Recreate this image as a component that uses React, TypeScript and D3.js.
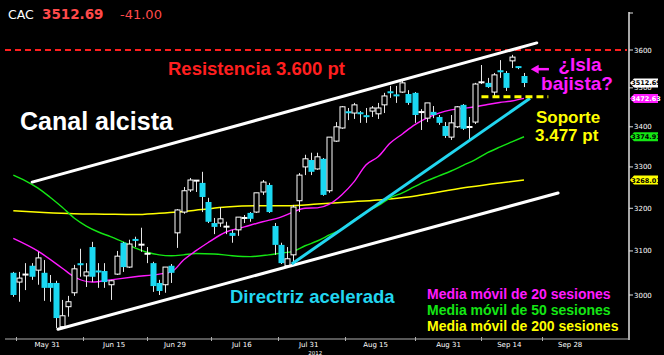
import React from "react";
import * as d3 from "d3";

const WIDTH = 664;
const HEIGHT = 355;

// CAC 40 daily sessions, 24 May – 18 Sep 2012
const opens = [
  3050, 3029, 3045, 3066, 3056, 3050, 3027, 3027, 2930, 2974,
  3005, 3070, 3043, 3109, 3054, 3054, 3023, 3047, 3119, 3063,
  3127, 3114, 3093, 3072, 3027, 3023, 3066, 3142, 3191, 3244,
  3266, 3261, 3215, 3165, 3165, 3156, 3142, 3149, 3175, 3189,
  3191, 3239, 3256, 3158, 3114, 3066, 3091, 3218, 3300, 3317,
  3295, 3320, 3242, 3364, 3397, 3438, 3435, 3435, 3428, 3440,
  3433, 3456, 3489, 3481, 3489, 3484, 3487, 3437, 3422, 3438,
  3425, 3402, 3374, 3400, 3456, 3397, 3412, 3514, 3513, 3489,
  3544, 3539, 3571, 3557, 3531,
];
const highs = [
  3052, 3052, 3072, 3072, 3098, 3079, 3045, 3032, 2989, 2998,
  3068, 3105, 3072, 3121, 3072, 3072, 3034, 3100, 3121, 3126,
  3133, 3154, 3109, 3075, 3034, 3063, 3070, 3198, 3251, 3273,
  3268, 3288, 3225, 3177, 3203, 3168, 3149, 3179, 3184, 3191,
  3237, 3268, 3261, 3165, 3119, 3109, 3208, 3285, 3330, 3335,
  3335, 3322, 3374, 3412, 3453, 3448, 3461, 3440, 3448, 3453,
  3461, 3487, 3505, 3505, 3518, 3494, 3489, 3445, 3461, 3453,
  3430, 3412, 3430, 3453, 3458, 3425, 3513, 3560, 3526, 3539,
  3573, 3544, 3587, 3557, 3539,
];
const lows = [
  2996, 2985, 3011, 3034, 3023, 2987, 2985, 2927, 2925, 2952,
  2998, 3041, 3018, 3029, 3016, 3016, 2989, 3045, 3052, 3061,
  3109, 3098, 3072, 3007, 3000, 3005, 3027, 3107, 3187, 3239,
  3239, 3191, 3165, 3139, 3156, 3139, 3119, 3135, 3165, 3168,
  3189, 3232, 3189, 3091, 3070, 3063, 3072, 3191, 3280, 3280,
  3293, 3230, 3237, 3362, 3395, 3417, 3420, 3410, 3410, 3425,
  3420, 3435, 3474, 3461, 3487, 3456, 3410, 3392, 3412, 3422,
  3405, 3372, 3367, 3397, 3392, 3369, 3407, 3510, 3500, 3476,
  3526, 3492, 3552, 3549, 3502,
];
const closes = [
  3000, 3038, 3047, 3041, 3084, 3016, 3016, 2949, 2954, 2985,
  3059, 3069, 3052, 3041, 3052, 3029, 3032, 3088, 3063, 3116,
  3124, 3115, 3094, 3020, 3009, 3063, 3050, 3196, 3242, 3268,
  3267, 3227, 3168, 3156, 3175, 3157, 3135, 3179, 3179, 3175,
  3237, 3263, 3191, 3114, 3072, 3082, 3203, 3280, 3320, 3288,
  3325, 3232, 3374, 3400, 3451, 3436, 3456, 3434, 3426, 3448,
  3448, 3479, 3488, 3480, 3513, 3461, 3430, 3438, 3461, 3430,
  3410, 3377, 3410, 3451, 3395, 3402, 3510, 3515, 3502, 3534,
  3543, 3500, 3581, 3552, 3512.69,
];
const dailyChange = -41.0;

// Moving averages: [session index, value]
const ma20 = [
  [0, 3129], [4, 3100], [8, 3061], [10, 3041], [13, 3029], [16, 3034], [20, 3041],
  [24, 3047], [26, 3052], [28, 3079], [30, 3100], [32, 3119], [35, 3144], [38, 3156],
  [41, 3168], [44, 3179], [46, 3191], [48, 3200], [50, 3201], [52, 3210], [54, 3232],
  [56, 3263], [58, 3305], [60, 3325], [62, 3359], [64, 3382], [66, 3405], [68, 3422],
  [70, 3435], [72, 3443], [74, 3447], [76, 3451], [78, 3457], [80, 3462], [82, 3466],
  [84, 3472.63],
];
const ma50 = [
  [0, 3280], [2, 3266], [4, 3249], [6, 3227], [8, 3203], [10, 3177], [12, 3158],
  [14, 3144], [16, 3133], [18, 3121], [20, 3107], [22, 3097], [24, 3091], [26, 3089],
  [28, 3091], [30, 3094], [33, 3093], [36, 3089], [39, 3087], [42, 3091], [44, 3095],
  [46, 3099], [48, 3112], [50, 3123], [52, 3137], [54, 3151], [56, 3172], [58, 3191],
  [60, 3206], [62, 3225], [64, 3237], [66, 3252], [68, 3266], [70, 3278], [72, 3290],
  [74, 3304], [76, 3318], [78, 3335], [80, 3349], [82, 3362], [84, 3374.91],
];
const ma200 = [
  [0, 3194], [5, 3190], [10, 3187], [15, 3186], [20, 3185], [24, 3188], [27, 3191],
  [31, 3197], [35, 3203], [40, 3206], [45, 3206], [50, 3210], [55, 3215], [60, 3220],
  [65, 3227], [70, 3239], [75, 3251], [80, 3261], [84, 3268.01],
];

// Axis ticks
const priceTicks = [3000, 3100, 3200, 3300, 3400, 3500, 3600];
const dateTickIdx = [6, 17, 27, 38, 49, 60, 72, 82, 92];
const dateTickLabels = ["May 31", "Jun 15", "Jun 29", "Jul 16", "Jul 31", "Aug 15", "Aug 31", "Sep 14", "Sep 28"];
const yearLabel = "2012";
const yearTickIdx = 49;

// Drawn analysis: lines given as [session index, price]
const resistanceLevel = 3600;
const supportLevel = 3477;
const channelUpper = [[3.1, 3263], [86.1, 3619]];
const channelLower = [[7.35, 2924.5], [89.6, 3236.6]];
const trendLine = [[45.8, 3070], [85, 3473]];
const supportSpan = [77, 88];
const islandArrow = [[88.1, 3549], [85.1, 3549]];

const C_UP = "#ffffff";
const C_DOWN = "#1ad8f2";
const C_MA20 = "#ff1aff";
const C_MA50 = "#14e614";
const C_MA200 = "#ffff00";
const C_RED = "#ff1f1f";
const C_CYAN = "#22d6f0";
const BOLD = "'Liberation Sans', Arial, sans-serif";
const SMALL = "'DejaVu Sans', sans-serif";

export default function App() {
  const axisX = 629;
  const axisY = 339;
  const plotLeft = 5;

  const x = d3.scaleLinear().domain([0, 84]).range([13.3, 524]);
  const y = d3.scaleLog().domain([3000, 3600]).range([295, 50]);

  const line = d3
    .line<number[]>()
    .x((d) => x(d[0]))
    .y((d) => y(d[1]));
  const smooth = d3
    .line<number[]>()
    .x((d) => x(d[0]))
    .y((d) => y(d[1]))
    .curve(d3.curveMonotoneX);

  const candles = opens.map((o, i) => {
    const c = closes[i];
    const cx = Math.round(x(i)) + 0.5;
    const up = c >= o;
    const yTop = y(Math.max(o, c));
    const yBot = y(Math.min(o, c));
    const bodyH = yBot - yTop;
    return (
      <g key={i}>
        <line x1={cx} x2={cx} y1={y(highs[i])} y2={y(lows[i])} stroke="#e6e6e6" strokeWidth={1} />
        {bodyH < 2 ? (
          <line x1={cx - 3} x2={cx + 3} y1={(yTop + yBot) / 2} y2={(yTop + yBot) / 2} stroke={up ? C_UP : C_DOWN} strokeWidth={2} />
        ) : up ? (
          <rect x={cx - 2.5} y={yTop} width={5} height={bodyH} fill="#000" stroke={C_UP} strokeWidth={1} />
        ) : (
          <rect x={cx - 3} y={yTop} width={6} height={bodyH} fill={C_DOWN} />
        )}
      </g>
    );
  });

  const lastClose = closes[closes.length - 1];
  const tags = [
    { v: lastClose, fill: "#ffffff", text: "#000" },
    { v: ma20[ma20.length - 1][1], fill: C_MA20, text: "#fff" },
    { v: ma50[ma50.length - 1][1], fill: C_MA50, text: "#000" },
    { v: ma200[ma200.length - 1][1], fill: C_MA200, text: "#000" },
  ];

  const minorTicks = dateTickIdx.map((d, i) => (i === 0 ? d - 5.5 : (d + dateTickIdx[i - 1]) / 2));

  const arrowX1 = x(islandArrow[0][0]);
  const arrowX2 = x(islandArrow[1][0]);
  const arrowY = y(islandArrow[0][1]);

  return (
    <div style={{ position: "fixed", left: 0, top: 0, width: WIDTH, height: HEIGHT, background: "#000" }}>
      <svg width={WIDTH} height={HEIGHT} style={{ display: "block", background: "#000" }}>
        {/* moving averages */}
        <path d={smooth(ma200) || ""} fill="none" stroke={C_MA200} strokeWidth={1.5} />
        <path d={smooth(ma50) || ""} fill="none" stroke={C_MA50} strokeWidth={1.4} />
        <path d={smooth(ma20) || ""} fill="none" stroke={C_MA20} strokeWidth={1.4} />

        {/* resistance */}
        <line x1={plotLeft} x2={axisX - 2} y1={y(resistanceLevel)} y2={y(resistanceLevel)} stroke={C_RED} strokeWidth={2} strokeDasharray="6 4" />

        {candles}

        {/* channel and trend line */}
        <path d={line(channelUpper) || ""} stroke="#fff" strokeWidth={3} fill="none" strokeLinecap="round" />
        <path d={line(channelLower) || ""} stroke="#fff" strokeWidth={3} fill="none" strokeLinecap="round" />
        <path d={line(trendLine) || ""} stroke={C_CYAN} strokeWidth={3} fill="none" />
        <line x1={x(supportSpan[0])} x2={x(supportSpan[1])} y1={y(supportLevel)} y2={y(supportLevel)} stroke="#ffff00" strokeWidth={3} strokeDasharray="7 4" />

        {/* island arrow */}
        <line x1={arrowX1} x2={arrowX2 + 6} y1={arrowY} y2={arrowY} stroke={C_MA20} strokeWidth={2.5} />
        <path d={`M${arrowX2},${arrowY} L${arrowX2 + 8},${arrowY - 4.5} L${arrowX2 + 8},${arrowY + 4.5} Z`} fill={C_MA20} />

        {/* annotations */}
        <text x={168} y={75} fill={C_RED} fontFamily={BOLD} fontWeight="bold" fontSize={18.5}>Resistencia 3.600 pt</text>
        <text x={20} y={130} fill="#fff" fontFamily={BOLD} fontWeight="bold" fontSize={25}>Canal alcista</text>
        <text x={536} y={123} fill="#ffff00" fontFamily={BOLD} fontWeight="bold" fontSize={17}>Soporte</text>
        <text x={535} y={141} fill="#ffff00" fontFamily={BOLD} fontWeight="bold" fontSize={17}>3.477 pt</text>
        <text x={580} y={71} fill={C_MA20} fontFamily={BOLD} fontWeight="bold" fontSize={19} textAnchor="middle">¿Isla</text>
        <text x={577} y={89.5} fill={C_MA20} fontFamily={BOLD} fontWeight="bold" fontSize={19} textAnchor="middle">bajista?</text>
        <text x={230} y={303} fill={C_CYAN} fontFamily={BOLD} fontWeight="bold" fontSize={18.5}>Directriz acelerada</text>

        {/* legend */}
        <text x={427} y={299} fill={C_MA20} fontFamily={BOLD} fontWeight="bold" fontSize={14}>Media móvil de 20 sesiones</text>
        <text x={427} y={315} fill={C_MA50} fontFamily={BOLD} fontWeight="bold" fontSize={14}>Media móvil de 50 sesiones</text>
        <text x={427} y={331} fill={C_MA200} fontFamily={BOLD} fontWeight="bold" fontSize={14}>Media móvil de 200 sesiones</text>

        {/* header */}
        <text x={8} y={19} fill="#fff" fontFamily={SMALL} fontSize={12.5}>CAC</text>
        <text x={42} y={19} fill="#ff4a4a" fontFamily={SMALL} fontWeight="bold" fontSize={13.5}>{lastClose.toFixed(2)}</text>
        <text x={120} y={19} fill="#ff4a4a" fontFamily={SMALL} fontSize={13}>{dailyChange.toFixed(2)}</text>

        {/* price axis */}
        <line x1={axisX} x2={axisX} y1={12} y2={axisY + 1} stroke="#e0e0e0" strokeWidth={1.5} />
        <line x1={axisX} x2={axisX + 4} y1={13} y2={13} stroke="#e0e0e0" strokeWidth={1} />
        {priceTicks.map((t) => (
          <g key={t}>
            <line x1={axisX} x2={axisX + 4} y1={y(t)} y2={y(t)} stroke="#e0e0e0" strokeWidth={1} />
            <text x={axisX + 5} y={y(t) + 2.5} fill="#fff" fontFamily={SMALL} fontSize={7}>{t}</text>
          </g>
        ))}
        {tags.map((t, i) => {
          const ty = y(t.v);
          return (
            <g key={i}>
              <path d={`M${axisX + 1},${ty} L${axisX + 5},${ty - 4.5} L${axisX + 29},${ty - 4.5} L${axisX + 29},${ty + 4.5} L${axisX + 5},${ty + 4.5} Z`} fill={t.fill} />
              <text x={axisX + 17} y={ty + 2.5} fill={t.text} fontFamily={SMALL} fontWeight="bold" fontSize={6.5} textAnchor="middle">{t.v.toFixed(2)}</text>
            </g>
          );
        })}

        {/* date axis */}
        <line x1={plotLeft} x2={axisX} y1={axisY} y2={axisY} stroke="#b0b0b0" strokeWidth={1} />
        {minorTicks.map((m, i) => (
          <line key={i} x1={Math.round(x(m)) + 0.5} x2={Math.round(x(m)) + 0.5} y1={axisY - 2} y2={axisY + 2} stroke="#b0b0b0" strokeWidth={1} />
        ))}
        {dateTickIdx.map((d, i) => (
          <text key={d} x={x(d) - 2.5} y={347} fill="#fff" fontFamily={SMALL} fontSize={7} textAnchor="middle">{dateTickLabels[i]}</text>
        ))}
        <text x={x(yearTickIdx) + 4} y={354.5} fill="#fff" fontFamily={SMALL} fontSize={5.5} textAnchor="middle">{yearLabel}</text>
      </svg>
    </div>
  );
}
